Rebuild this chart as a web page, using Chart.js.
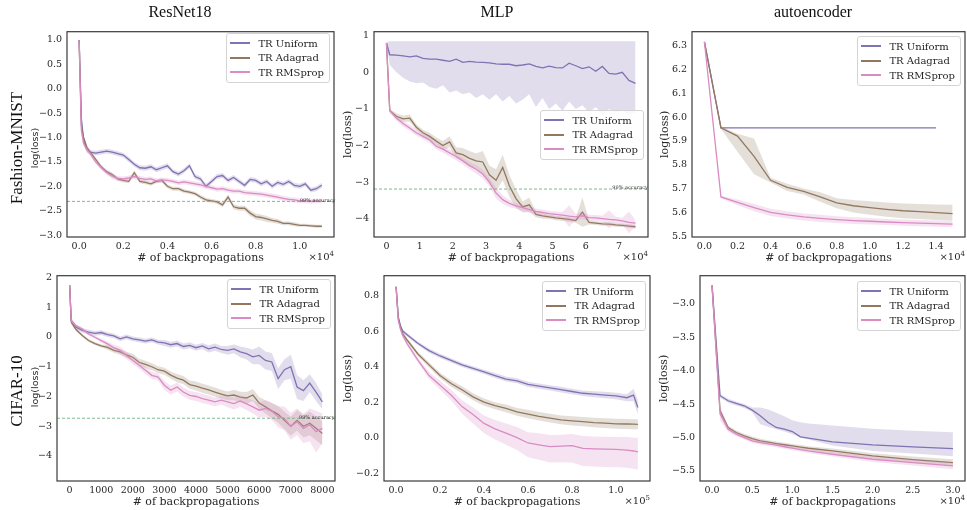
<!DOCTYPE html>
<html>
<head>
<meta charset="utf-8">
<script src="https://cdn.jsdelivr.net/npm/chart.js@4.4.0/dist/chart.umd.min.js"></script>
<style>
  body { margin: 0; background: #fff; }
  #fig { position: relative; width: 967px; height: 510px; overflow: hidden; background: #fff;
         font-family: 'DejaVu Serif', serif; color: #262626; }
  #fig canvas { position: absolute; }
  .t { position: absolute; white-space: nowrap; transform: translate(-50%, -50%); }
  .col { font-family: 'Liberation Serif', serif; font-size: 16px; color: #111; }
  .row { font-family: 'Liberation Serif', serif; font-size: 17px; color: #111; transform: translate(-50%, -50%) rotate(-90deg); }
  .rowy { font-family: 'DejaVu Sans', sans-serif; font-size: 9.5px; transform: translate(-50%, -50%) rotate(-90deg); }
  .xlab { font-size: 11px; }
  .off { position: absolute; white-space: nowrap; font-size: 10px; transform: translate(-100%, -50%); }
  .off sup { font-size: 7px; vertical-align: 4px; }
  .legend { position: absolute; background: rgba(255,255,255,0.8); border: 1px solid #d4d4d4; border-radius: 3px;
            padding: 2px 5px 2px 3px; font-size: 10px; }
  .legend div { height: 14.5px; display: flex; align-items: center; white-space: nowrap; }
  .legend span.s { display: inline-block; width: 20px; height: 1.6px; margin-right: 8px; }
</style>
</head>
<body>
<div id="fig"></div>
<script>
// colours of the three methods
const colU = '#8172b3';
const colA = '#937860';
const colR = '#da8bc3';
const names = ['TR Uniform', 'TR Adagrad', 'TR RMSprop'];

// ---- ResNet18 / Fashion-MNIST (x in 1e4 backprops) ----
const p1X = [0, 0.01, 0.02, 0.035, 0.05, 0.075, 0.1, 0.125, 0.15, 0.175, 0.2, 0.225, 0.25, 0.275, 0.3, 0.325, 0.35, 0.375, 0.4, 0.425, 0.45, 0.475, 0.5, 0.525, 0.55, 0.575, 0.6, 0.625, 0.65, 0.675, 0.7, 0.725, 0.75, 0.775, 0.8, 0.825, 0.85, 0.875, 0.9, 0.925, 0.95, 0.975, 1.0, 1.025, 1.05, 1.075, 1.1];
const p1Uni = [1.0, -0.6, -1.05, -1.25, -1.3, -1.32, -1.3, -1.28, -1.3, -1.33, -1.36, -1.45, -1.55, -1.62, -1.63, -1.6, -1.66, -1.62, -1.58, -1.7, -1.75, -1.68, -1.58, -1.8, -1.85, -2.0, -1.9, -1.8, -1.78, -1.88, -1.82, -1.9, -1.98, -1.86, -1.88, -1.95, -1.9, -2.0, -1.92, -1.96, -1.9, -1.98, -2.0, -1.95, -2.08, -2.05, -1.98];
const p1UniSd = [0, 0.1, 0.08, 0.06, 0.05, 0.05, 0.05, 0.05, 0.05, 0.05, 0.05, 0.05, 0.05, 0.05, 0.05, 0.05, 0.05, 0.05, 0.05, 0.05, 0.05, 0.05, 0.05, 0.05, 0.05, 0.05, 0.05, 0.05, 0.05, 0.05, 0.05, 0.05, 0.05, 0.05, 0.05, 0.05, 0.05, 0.05, 0.05, 0.05, 0.05, 0.05, 0.05, 0.05, 0.05, 0.05, 0.05];
const p1Ada = [1.0, -0.75, -1.0, -1.2, -1.3, -1.45, -1.6, -1.7, -1.76, -1.85, -1.88, -1.9, -1.72, -1.9, -1.92, -1.95, -1.9, -1.88, -2.0, -2.05, -2.05, -2.1, -2.12, -2.15, -2.22, -2.28, -2.3, -2.32, -2.38, -2.22, -2.42, -2.45, -2.45, -2.55, -2.62, -2.64, -2.67, -2.7, -2.72, -2.76, -2.76, -2.78, -2.8, -2.8, -2.81, -2.82, -2.82];
const p1AdaSd = [0, 0.06, 0.05, 0.04, 0.04, 0.04, 0.04, 0.04, 0.04, 0.04, 0.04, 0.04, 0.05, 0.04, 0.04, 0.04, 0.04, 0.04, 0.04, 0.04, 0.04, 0.04, 0.04, 0.04, 0.04, 0.04, 0.04, 0.04, 0.05, 0.05, 0.05, 0.05, 0.05, 0.06, 0.06, 0.06, 0.06, 0.05, 0.05, 0.04, 0.04, 0.04, 0.03, 0.03, 0.03, 0.03, 0.03];
const p1Rms = [1.0, -0.85, -1.12, -1.25, -1.33, -1.5, -1.62, -1.72, -1.8, -1.84, -1.85, -1.83, -1.8, -1.84, -1.86, -1.85, -1.89, -1.87, -1.88, -1.9, -1.93, -1.91, -1.93, -1.95, -1.97, -2.0, -2.03, -2.06, -2.05, -2.08, -2.1, -2.1, -2.13, -2.14, -2.15, -2.16, -2.18, -2.2, -2.22, -2.25, -2.27, -2.28, -2.3, -2.3, -2.31, -2.3, -2.3];
const p1RmsSd = [0, 0.08, 0.06, 0.05, 0.05, 0.05, 0.05, 0.05, 0.05, 0.05, 0.05, 0.05, 0.05, 0.05, 0.05, 0.05, 0.05, 0.05, 0.05, 0.05, 0.05, 0.05, 0.05, 0.05, 0.05, 0.05, 0.05, 0.05, 0.05, 0.05, 0.05, 0.05, 0.05, 0.05, 0.05, 0.05, 0.05, 0.05, 0.05, 0.05, 0.05, 0.05, 0.05, 0.05, 0.05, 0.05, 0.05];
const p1Acc = -2.31;
const p1XTicks = [0, 0.2, 0.4, 0.6, 0.8, 1.0];
const p1YTicks = [-3, -2.5, -2, -1.5, -1, -0.5, 0, 0.5, 1];

// ---- MLP / Fashion-MNIST (x in 1e4) ----
const p2X = [0, 0.1, 0.3, 0.5, 0.7, 0.9, 1.1, 1.3, 1.5, 1.7, 1.9, 2.1, 2.3, 2.5, 2.7, 2.9, 3.1, 3.3, 3.5, 3.7, 3.9, 4.1, 4.3, 4.5, 4.7, 4.9, 5.1, 5.3, 5.5, 5.7, 5.9, 6.1, 6.3, 6.5, 6.7, 6.9, 7.1, 7.3, 7.5];
const p2Uni = [0.8, 0.48, 0.47, 0.45, 0.42, 0.45, 0.38, 0.36, 0.36, 0.33, 0.3, 0.36, 0.27, 0.3, 0.28, 0.27, 0.26, 0.23, 0.22, 0.22, 0.18, 0.2, 0.23, 0.16, 0.12, 0.17, 0.13, 0.12, 0.25, 0.18, 0.1, 0.15, 0.03, 0.16, -0.03, -0.05, 0.0, -0.22, -0.3];
const p2UniLo = [0.8, 0.2, 0.0, -0.15, -0.25, -0.3, -0.28, -0.4, -0.45, -0.35, -0.55, -0.5, -0.6, -0.55, -0.7, -0.6, -0.75, -0.6, -0.8, -0.65, -0.85, -0.75, -0.6, -0.95, -0.7, -1.0, -0.85, -1.05, -0.8, -1.0, -0.9, -1.1, -0.95, -1.15, -1.0, -1.1, -1.05, -1.15, -1.1];
const p2UniHi = [0.82, 0.85, 0.85, 0.85, 0.85, 0.85, 0.85, 0.85, 0.85, 0.85, 0.85, 0.85, 0.85, 0.85, 0.85, 0.85, 0.85, 0.85, 0.85, 0.85, 0.85, 0.85, 0.85, 0.85, 0.85, 0.85, 0.85, 0.85, 0.85, 0.85, 0.85, 0.85, 0.85, 0.85, 0.85, 0.85, 0.85, 0.85, 0.85];
const p2Ada = [0.8, -1.05, -1.2, -1.27, -1.25, -1.5, -1.65, -1.75, -1.88, -2.0, -1.9, -2.2, -2.25, -2.35, -2.42, -2.45, -2.8, -2.95, -2.6, -3.1, -3.45, -3.68, -3.62, -3.88, -3.92, -3.95, -3.98, -4.0, -4.02, -4.05, -3.82, -4.1, -4.12, -4.14, -4.15, -4.17, -4.18, -4.2, -4.22];
const p2AdaSd = [0, 0.05, 0.08, 0.08, 0.1, 0.08, 0.08, 0.1, 0.1, 0.12, 0.15, 0.15, 0.18, 0.2, 0.2, 0.3, 0.25, 0.3, 0.35, 0.3, 0.25, 0.15, 0.2, 0.08, 0.08, 0.06, 0.06, 0.06, 0.06, 0.06, 0.4, 0.06, 0.05, 0.05, 0.05, 0.05, 0.05, 0.05, 0.05];
const p2Rms = [0.8, -1.05, -1.25, -1.4, -1.52, -1.65, -1.75, -1.85, -2.02, -2.1, -2.2, -2.3, -2.42, -2.55, -2.65, -2.78, -3.0, -3.3, -3.48, -3.58, -3.65, -3.7, -3.75, -3.8, -3.83, -3.86, -3.88, -3.9, -3.93, -3.95, -3.92, -3.97, -3.98, -4.0, -4.02, -4.03, -4.06, -4.1, -4.12];
const p2RmsSd = [0, 0.05, 0.08, 0.08, 0.08, 0.08, 0.08, 0.08, 0.08, 0.1, 0.1, 0.1, 0.1, 0.1, 0.12, 0.12, 0.12, 0.15, 0.12, 0.1, 0.08, 0.08, 0.08, 0.08, 0.08, 0.08, 0.08, 0.08, 0.3, 0.08, 0.1, 0.08, 0.08, 0.08, 0.25, 0.08, 0.08, 0.3, 0.08];
const p2Acc = -3.19;
const p2XTicks = [0, 1, 2, 3, 4, 5, 6, 7];
const p2YTicks = [-4, -3, -2, -1, 0, 1];

// ---- autoencoder / Fashion-MNIST (x in 1e4) ----
const p3X = [0, 0.1, 0.2, 0.3, 0.4, 0.5, 0.6, 0.7, 0.8, 0.9, 1.0, 1.1, 1.2, 1.3, 1.4, 1.5];
const p3Uni = [6.315, 5.955, 5.955, 5.955, 5.955, 5.955, 5.955, 5.955, 5.955, 5.955, 5.955, 5.955, 5.955, 5.955, 5.955, null];
const p3Ada = [6.315, 5.955, 5.92, 5.835, 5.735, 5.705, 5.688, 5.665, 5.64, 5.628, 5.62, 5.613, 5.607, 5.603, 5.599, 5.595];
const p3AdaLo = [6.315, 5.95, 5.855, 5.76, 5.726, 5.69, 5.675, 5.645, 5.618, 5.6, 5.59, 5.582, 5.576, 5.572, 5.568, 5.565];
const p3AdaHi = [6.315, 5.96, 5.93, 5.91, 5.745, 5.72, 5.7, 5.685, 5.66, 5.652, 5.647, 5.642, 5.638, 5.635, 5.633, 5.632];
const p3Rms = [6.315, 5.665, 5.642, 5.62, 5.6, 5.59, 5.581, 5.575, 5.57, 5.566, 5.563, 5.56, 5.557, 5.555, 5.553, 5.551];
const p3RmsSd = [0, 0.005, 0.012, 0.015, 0.015, 0.015, 0.015, 0.015, 0.014, 0.014, 0.014, 0.013, 0.013, 0.013, 0.013, 0.013];
const p3XTicks = [0, 0.2, 0.4, 0.6, 0.8, 1.0, 1.2, 1.4];
const p3YTicks = [5.5, 5.6, 5.7, 5.8, 5.9, 6.0, 6.1, 6.2, 6.3];

// ---- ResNet18 / CIFAR-10 ----
const p4X = [0, 50, 200, 400, 600, 800, 1000, 1200, 1400, 1600, 1800, 2000, 2200, 2400, 2600, 2800, 3000, 3200, 3400, 3600, 3800, 4000, 4200, 4400, 4600, 4800, 5000, 5200, 5400, 5600, 5800, 6000, 6200, 6400, 6600, 6800, 7000, 7200, 7400, 7600, 7800, 8000];
const p4Uni = [1.75, 0.55, 0.33, 0.22, 0.16, 0.12, 0.15, 0.08, 0.04, -0.06, 0.0, -0.06, -0.1, -0.14, -0.1, -0.17, -0.2, -0.26, -0.22, -0.32, -0.28, -0.36, -0.3, -0.4, -0.34, -0.42, -0.45, -0.4, -0.5, -0.56, -0.67, -0.62, -0.79, -0.84, -1.4, -1.1, -1.0, -1.68, -1.8, -1.55, -1.85, -2.18];
const p4UniSd = [0, 0.1, 0.08, 0.08, 0.08, 0.08, 0.08, 0.08, 0.08, 0.08, 0.08, 0.08, 0.08, 0.08, 0.08, 0.08, 0.1, 0.1, 0.1, 0.1, 0.1, 0.1, 0.1, 0.12, 0.12, 0.12, 0.15, 0.15, 0.18, 0.2, 0.25, 0.3, 0.3, 0.3, 0.35, 0.35, 0.4, 0.4, 0.35, 0.3, 0.3, 0.25];
const p4Ada = [1.75, 0.5, 0.25, 0.05, -0.12, -0.22, -0.3, -0.35, -0.45, -0.5, -0.6, -0.68, -0.85, -0.92, -1.0, -1.1, -1.15, -1.28, -1.38, -1.45, -1.6, -1.65, -1.72, -1.78, -1.85, -1.92, -1.98, -1.95, -2.02, -2.05, -1.95, -2.22, -2.35, -2.48, -2.6, -2.8, -3.0, -2.8, -3.0, -2.9, -3.07, -3.24];
const p4AdaSd = [0, 0.06, 0.05, 0.05, 0.05, 0.05, 0.05, 0.08, 0.08, 0.1, 0.1, 0.12, 0.12, 0.12, 0.12, 0.12, 0.12, 0.12, 0.14, 0.14, 0.14, 0.15, 0.15, 0.15, 0.15, 0.15, 0.15, 0.18, 0.18, 0.2, 0.2, 0.2, 0.22, 0.25, 0.28, 0.3, 0.32, 0.35, 0.38, 0.4, 0.4, 0.4];
const p4Rms = [1.75, 0.55, 0.38, 0.27, 0.1, -0.01, -0.12, -0.23, -0.36, -0.45, -0.62, -0.79, -0.95, -1.12, -1.29, -1.35, -1.62, -1.79, -1.68, -1.85, -1.96, -2.0, -2.07, -2.12, -2.18, -2.12, -2.18, -2.24, -2.15, -2.25, -2.35, -2.46, -2.4, -2.5, -2.68, -2.74, -3.0, -2.85, -3.07, -2.95, -3.18, -3.07];
const p4RmsSd = [0, 0.06, 0.05, 0.05, 0.05, 0.05, 0.06, 0.08, 0.1, 0.12, 0.12, 0.12, 0.12, 0.12, 0.12, 0.12, 0.15, 0.15, 0.15, 0.15, 0.15, 0.15, 0.15, 0.15, 0.15, 0.15, 0.18, 0.2, 0.2, 0.2, 0.22, 0.25, 0.28, 0.3, 0.35, 0.4, 0.45, 0.45, 0.5, 0.55, 0.7, 0.5];
const p4Acc = -2.73;
const p4XTicks = [0, 1000, 2000, 3000, 4000, 5000, 6000, 7000, 8000];
const p4YTicks = [-4, -3, -2, -1, 0, 1, 2];

// ---- MLP / CIFAR-10 (x in 1e5) ----
const p5X = [0, 0.01, 0.02, 0.03, 0.05, 0.1, 0.15, 0.2, 0.25, 0.3, 0.35, 0.4, 0.45, 0.5, 0.55, 0.6, 0.65, 0.7, 0.75, 0.8, 0.85, 0.9, 0.95, 1.0, 1.05, 1.08, 1.1];
const p5Uni = [0.85, 0.68, 0.63, 0.6, 0.58, 0.53, 0.49, 0.46, 0.435, 0.41, 0.39, 0.37, 0.35, 0.33, 0.32, 0.3, 0.29, 0.28, 0.27, 0.26, 0.25, 0.245, 0.24, 0.235, 0.225, 0.24, 0.17];
const p5UniSd = [0, 0.01, 0.01, 0.01, 0.01, 0.01, 0.012, 0.012, 0.012, 0.012, 0.012, 0.012, 0.014, 0.014, 0.014, 0.015, 0.015, 0.015, 0.016, 0.016, 0.016, 0.017, 0.018, 0.018, 0.02, 0.035, 0.04];
const p5Ada = [0.85, 0.67, 0.62, 0.585, 0.55, 0.47, 0.41, 0.35, 0.305, 0.27, 0.23, 0.2, 0.18, 0.165, 0.145, 0.133, 0.12, 0.11, 0.1, 0.095, 0.09, 0.085, 0.082, 0.078, 0.077, 0.076, 0.075];
const p5AdaSd = [0, 0.008, 0.01, 0.01, 0.01, 0.012, 0.015, 0.015, 0.018, 0.02, 0.02, 0.02, 0.02, 0.022, 0.022, 0.024, 0.024, 0.025, 0.025, 0.026, 0.026, 0.027, 0.027, 0.028, 0.028, 0.028, 0.028];
const p5Rms = [0.85, 0.66, 0.61, 0.575, 0.53, 0.435, 0.35, 0.295, 0.24, 0.175, 0.13, 0.08, 0.05, 0.025, 0.0, -0.03, -0.04, -0.05, -0.048, -0.045, -0.06, -0.063, -0.065, -0.066, -0.07, -0.075, -0.08];
const p5RmsLo = [0.85, 0.65, 0.6, 0.565, 0.518, 0.42, 0.33, 0.27, 0.21, 0.135, 0.08, 0.025, -0.01, -0.04, -0.07, -0.11, -0.125, -0.14, -0.138, -0.14, -0.16, -0.163, -0.165, -0.166, -0.17, -0.175, -0.18];
const p5RmsHi = [0.85, 0.67, 0.62, 0.585, 0.542, 0.45, 0.37, 0.32, 0.27, 0.21, 0.17, 0.125, 0.1, 0.08, 0.06, 0.03, 0.025, 0.015, 0.017, 0.02, 0.01, 0.007, 0.005, 0.004, 0.005, 0.0, 0.0];
const p5XTicks = [0, 0.2, 0.4, 0.6, 0.8, 1.0];
const p5YTicks = [-0.2, 0, 0.2, 0.4, 0.6, 0.8];

// ---- autoencoder / CIFAR-10 (x in 1e4) ----
const p6X = [0, 0.1, 0.2, 0.3, 0.4, 0.5, 0.6, 0.7, 0.8, 0.9, 1.0, 1.1, 1.2, 1.5, 2.0, 2.5, 3.0];
const p6Uni = [-2.725, -4.375, -4.45, -4.49, -4.525, -4.59, -4.675, -4.775, -4.85, -4.875, -4.91, -4.99, -5.01, -5.065, -5.11, -5.14, -5.165];
const p6UniLo = [-2.725, -4.4, -4.48, -4.52, -4.56, -4.62, -4.8, -4.84, -4.875, -4.91, -4.95, -5.0, -5.03, -5.12, -5.2, -5.24, -5.28];
const p6UniHi = [-2.725, -4.35, -4.42, -4.46, -4.5, -4.55, -4.55, -4.58, -4.63, -4.68, -4.74, -4.77, -4.79, -4.82, -4.87, -4.9, -4.92];
const p6Ada = [-2.725, -4.6, -4.85, -4.925, -4.975, -5.015, -5.05, -5.07, -5.09, -5.108, -5.125, -5.142, -5.16, -5.2, -5.275, -5.33, -5.375];
const p6AdaSd = [0, 0.05, 0.03, 0.03, 0.03, 0.03, 0.03, 0.03, 0.03, 0.03, 0.03, 0.03, 0.03, 0.035, 0.04, 0.045, 0.05];
const p6Rms = [-2.725, -4.65, -4.875, -4.95, -5.0, -5.05, -5.075, -5.095, -5.115, -5.138, -5.16, -5.18, -5.2, -5.25, -5.325, -5.375, -5.425];
const p6RmsSd = [0, 0.1, 0.04, 0.03, 0.03, 0.03, 0.03, 0.03, 0.03, 0.03, 0.03, 0.03, 0.03, 0.035, 0.04, 0.045, 0.05];
const p6XTicks = [0, 0.5, 1.0, 1.5, 2.0, 2.5, 3.0];
const p6YTicks = [-5.5, -5.0, -4.5, -4.0, -3.5, -3.0];

// panel setup: plot rectangle on the page, axis ranges, which data goes where
const panels = [
  { l: 67, t: 31, r: 334, b: 237, xr: [-0.055, 1.155], yr: [-3.04, 1.17], xs: p1X, xt: p1XTicks, xd: 1, yt: p1YTicks, yd: 1,
    ser: [{ y: p1Uni, sd: p1UniSd }, { y: p1Ada, sd: p1AdaSd }, { y: p1Rms, sd: p1RmsSd }],
    acc: p1Acc, accX: 1.0, off: '4', leg: 33 },
  { l: 374, t: 31, r: 648, b: 237, xr: [-0.375, 7.875], yr: [-4.5, 1.11], xs: p2X, xt: p2XTicks, xd: 0, yt: p2YTicks, yd: 0,
    ser: [{ y: p2Uni, lo: p2UniLo, hi: p2UniHi }, { y: p2Ada, sd: p2AdaSd }, { y: p2Rms, sd: p2RmsSd }],
    acc: p2Acc, accX: 6.8, off: '4', leg: 110, ylabX: 348 },
  { l: 692, t: 31, r: 965, b: 237, xr: [-0.075, 1.575], yr: [5.497, 6.358], xs: p3X, xt: p3XTicks, xd: 1, yt: p3YTicks, yd: 1,
    ser: [{ y: p3Uni }, { y: p3Ada, lo: p3AdaLo, hi: p3AdaHi }, { y: p3Rms, sd: p3RmsSd }],
    off: '4', leg: 36, ylabX: 665 },
  { l: 57, t: 275, r: 335, b: 481, xr: [-400, 8400], yr: [-4.84, 2.06], xs: p4X, xt: p4XTicks, xd: 0, yt: p4YTicks, yd: 0,
    ser: [{ y: p4Uni, sd: p4UniSd }, { y: p4Ada, sd: p4AdaSd }, { y: p4Rms, sd: p4RmsSd }],
    acc: p4Acc, accX: 7260, leg: 279 },
  { l: 384, t: 275, r: 650, b: 481, xr: [-0.055, 1.155], yr: [-0.244, 0.912], xs: p5X, xt: p5XTicks, xd: 1, yt: p5YTicks, yd: 1,
    ser: [{ y: p5Uni, sd: p5UniSd }, { y: p5Ada, sd: p5AdaSd }, { y: p5Rms, lo: p5RmsLo, hi: p5RmsHi }],
    off: '5', leg: 281, ylabX: 348 },
  { l: 700, t: 275, r: 965, b: 481, xr: [-0.15, 3.15], yr: [-5.65, -2.58], xs: p6X, xt: p6XTicks, xd: 1, yt: p6YTicks, yd: 1,
    ser: [{ y: p6Uni, lo: p6UniLo, hi: p6UniHi }, { y: p6Ada, sd: p6AdaSd }, { y: p6Rms, sd: p6RmsSd }],
    off: '4', leg: 281, ylabX: 664 }
];
const colors = [colU, colA, colR];

const fig = document.getElementById('fig');
const YW = 45, XH = 20, PT = 10, PR = 12;

function fmt(v, dec) {
  const s = Math.abs(v) < 1e-9 ? (0).toFixed(dec) : v.toFixed(dec);
  return s.replace('-', '\u2212');
}
function rgba(hex, a) {
  const n = parseInt(hex.slice(1), 16);
  return `rgba(${n >> 16},${(n >> 8) & 255},${n & 255},${a})`;
}
function pts(xs, ys) {
  return xs.map((x, i) => ({ x, y: ys[i] })).filter(p => p.y != null);
}
function addText(cls, text, x, y) {
  const d = document.createElement('div');
  d.className = 't ' + cls;
  d.innerHTML = text;
  d.style.left = x + 'px';
  d.style.top = y + 'px';
  fig.appendChild(d);
}

// frame round the axes plus the small accuracy note
const framePlugin = {
  id: 'frame',
  afterDatasetsDraw(chart, args, opts) {
    const { ctx, chartArea: a } = chart;
    ctx.save();
    if (opts.acc != null) {
      ctx.font = '5px "DejaVu Serif"';
      ctx.fillStyle = '#333';
      ctx.textBaseline = 'middle';
      ctx.fillText('99% accuracy', chart.scales.x.getPixelForValue(opts.accX), chart.scales.y.getPixelForValue(opts.acc) - 1);
    }
    ctx.strokeStyle = '#3a3a3a';
    ctx.lineWidth = 1.2;
    ctx.strokeRect(a.left, a.top, a.width, a.height);
    ctx.restore();
  }
};

panels.forEach(p => {
  const datasets = [];
  p.ser.forEach((s, i) => {
    const lo = s.lo || (s.sd && s.y.map((m, j) => m == null ? null : m - s.sd[j]));
    const hi = s.hi || (s.sd && s.y.map((m, j) => m == null ? null : m + s.sd[j]));
    if (lo && hi) {
      datasets.push({ data: pts(p.xs, lo), borderColor: 'transparent', borderWidth: 0, pointRadius: 0, fill: false, order: 6 - 2 * i });
      datasets.push({ data: pts(p.xs, hi), borderColor: 'transparent', borderWidth: 0, pointRadius: 0,
                      fill: '-1', backgroundColor: rgba(colors[i], 0.24), order: 6 - 2 * i });
    }
    datasets.push({ data: pts(p.xs, s.y), borderColor: colors[i], borderWidth: 1.3, pointRadius: 0, fill: false, order: 5 - 2 * i });
  });
  if (p.acc != null) {
    datasets.push({ data: [{ x: p.xr[0], y: p.acc }, { x: p.xr[1], y: p.acc }], borderColor: '#6fb57f',
                    borderDash: [3, 2], borderWidth: 0.9, pointRadius: 0, fill: false, order: 0 });
  }

  const cv = document.createElement('canvas');
  const cl = p.l - YW;
  const w = (p.r - p.l) + YW + PR, h = (p.b - p.t) + PT + XH;
  cv.width = w; cv.height = h;
  cv.style.left = cl + 'px';
  cv.style.top = (p.t - PT) + 'px';
  fig.appendChild(cv);

  const tickFont = { family: 'DejaVu Serif', size: 9.5 };
  const titleFont = { family: 'DejaVu Serif', size: 11, lineHeight: 1.2 };
  new Chart(cv, {
    type: 'line',
    data: { datasets },
    options: {
      responsive: false, animation: false, devicePixelRatio: 1,
      layout: { padding: { top: PT, right: PR, left: 0, bottom: 0 } },
      elements: { line: { tension: 0 } },
      plugins: { legend: { display: false }, tooltip: { enabled: false }, frame: { acc: p.acc, accX: p.accX } },
      scales: {
        x: {
          type: 'linear', min: p.xr[0], max: p.xr[1],
          grid: { display: false, drawTicks: false }, border: { display: false },
          ticks: { autoSkip: false, maxRotation: 0, padding: 4, color: '#262626', font: tickFont,
                   callback: v => fmt(v, p.xd) },
          afterBuildTicks: sc => { sc.ticks = p.xt.map(v => ({ value: v })); },
          afterFit: sc => { sc.height = XH; }
        },
        y: {
          type: 'linear', min: p.yr[0], max: p.yr[1],
          grid: { display: false, drawTicks: false }, border: { display: false },
          title: { display: !!p.ylabX, text: 'log(loss)', color: '#262626', font: titleFont,
                   padding: { top: p.ylabX ? p.ylabX - cl - 6.6 : 0, bottom: 0 } },
          ticks: { autoSkip: false, padding: 5, color: '#262626', font: tickFont,
                   callback: v => fmt(v, p.yd) },
          afterBuildTicks: sc => { sc.ticks = p.yt.map(v => ({ value: v })); },
          afterFit: sc => { sc.width = YW; }
        }
      }
    },
    plugins: [framePlugin]
  });

  // legend box, upper right of the axes
  const lg = document.createElement('div');
  lg.className = 'legend';
  lg.style.right = (967 - (p.r - 4)) + 'px';
  lg.style.top = p.leg + 'px';
  lg.innerHTML = names.map((n, i) => `<div><span class="s" style="background:${colors[i]}"></span>${n}</div>`).join('');
  fig.appendChild(lg);

  // x label and offset text
  const rowY = p.t > 200 ? 500.5 : 257;
  addText('xlab', '# of backpropagations', (p.l + p.r) / 2, rowY);
  if (p.off) {
    const o = document.createElement('div');
    o.className = 'off';
    o.innerHTML = '\u00d710<sup>' + p.off + '</sup>';
    o.style.left = p.r + 'px';
    o.style.top = (rowY - 1) + 'px';
    fig.appendChild(o);
  }
});

// column and row titles
addText('col', 'ResNet18', 180, 12);
addText('col', 'MLP', 497, 12);
addText('col', 'autoencoder', 813, 12);
addText('row', 'Fashion-MNIST', 17, 148);
addText('rowy', 'log(loss)', 33.5, 148);
addText('row', 'CIFAR-10', 17, 391);
addText('rowy', 'log(loss)', 33.5, 387);
</script>
</body>
</html>
